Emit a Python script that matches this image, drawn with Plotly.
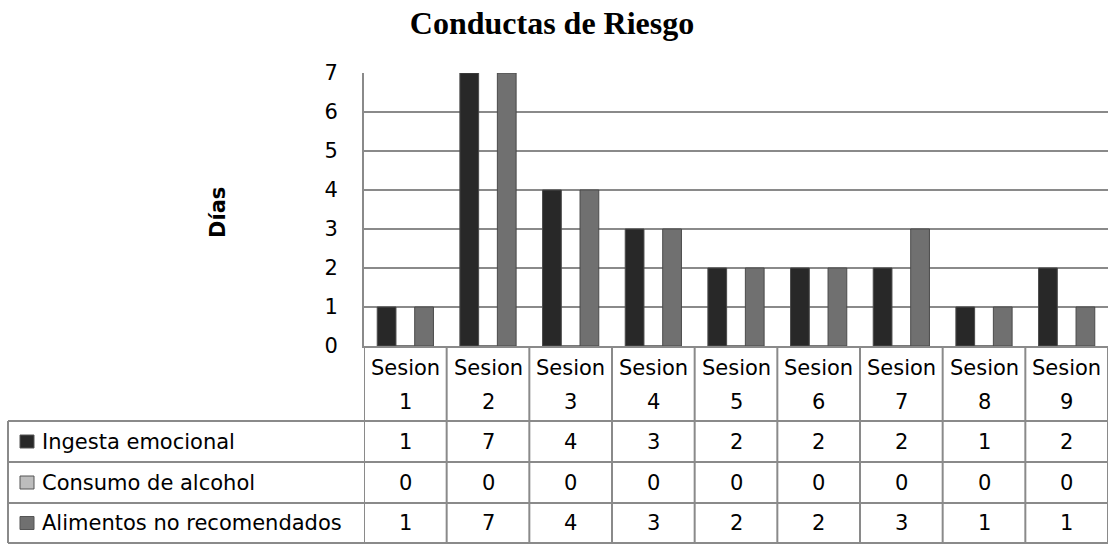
import plotly.graph_objects as go

sessions = ["Sesion 1", "Sesion 2", "Sesion 3", "Sesion 4", "Sesion 5",
            "Sesion 6", "Sesion 7", "Sesion 8", "Sesion 9"]
series_names = ["Ingesta emocional", "Consumo de alcohol", "Alimentos no recomendados"]
ingesta = [1, 7, 4, 3, 2, 2, 2, 1, 2]
alcohol = [0, 0, 0, 0, 0, 0, 0, 0, 0]
alimentos = [1, 7, 4, 3, 2, 2, 3, 1, 1]
y_ticks = [0, 1, 2, 3, 4, 5, 6, 7]

colors = ["#282828", "#bdbdbd", "#707070"]
series = [ingesta, alcohol, alimentos]

W, H = 1109, 544
L, R, T, B = 364, 1108, 73, 346
FONT = "DejaVu Sans"
GRID = "#8a8a8a"


def px(x):
    return (x - L) / (R - L)


def py(y):
    return (B - y) / (B - T)


fig = go.Figure()
xs = list(range(len(sessions)))
for name, vals, c in zip(series_names, series, colors):
    fig.add_trace(go.Bar(
        x=xs, y=vals, name=name,
        marker=dict(color=c, line=dict(color="#4a4a4a", width=1)),
        showlegend=False,
    ))

fig.update_layout(
    width=W, height=H,
    margin=dict(l=L, r=W - R, t=T, b=H - B),
    paper_bgcolor="white", plot_bgcolor="white",
    barmode="group", bargap=0.32, bargroupgap=0,
    font=dict(family=FONT, size=21, color="black"),
    xaxis=dict(range=[-0.5, len(sessions) - 0.5], showticklabels=False,
               showgrid=False, zeroline=False, showline=True,
               linecolor=GRID, linewidth=2, ticks=""),
    yaxis=dict(range=[0, 7], tickvals=y_ticks, showgrid=True,
               gridcolor=GRID, gridwidth=2, zeroline=False,
               showline=True, linecolor=GRID, linewidth=2,
               ticks="", ticklabelstandoff=20,
               tickfont=dict(family=FONT, size=21)),
    title=dict(text="<b>Conductas de Riesgo</b>", x=552 / W, xanchor="center",
               xref="container", y=1 - 23 / H, yanchor="middle",
               font=dict(family="Liberation Serif", size=32, color="black")),
)

# y-axis title
fig.add_annotation(text="<b>Días</b>", textangle=-90, xref="paper", yref="paper",
                   x=px(204), y=py(213), showarrow=False,
                   font=dict(family=FONT, size=21))

# data table
row_lines = [421, 462, 503, 543]
line = dict(color=GRID, width=2)
for yl in row_lines:
    fig.add_shape(type="line", xref="paper", yref="paper",
                  x0=px(8), x1=1, y0=py(yl), y1=py(yl), line=line)
for i in range(len(sessions) + 1):
    fig.add_shape(type="line", xref="x", yref="paper",
                  x0=i - 0.5, x1=i - 0.5, y0=0, y1=py(543), line=line)
fig.add_shape(type="line", xref="paper", yref="paper",
              x0=px(8), x1=px(8), y0=py(421), y1=py(543), line=line)

for i, s in enumerate(sessions):
    word, num = s.split(" ")
    fig.add_annotation(text=word, x=i, xref="x", yref="paper", y=py(368),
                       showarrow=False, yanchor="middle")
    fig.add_annotation(text=num, x=i, xref="x", yref="paper", y=py(402),
                       showarrow=False, yanchor="middle")

row_centers = [441.5, 482.5, 523]
for name, vals, c, yc in zip(series_names, series, colors, row_centers):
    fig.add_shape(type="rect", xref="paper", yref="paper",
                  x0=px(20), x1=px(34), y0=py(yc - 6.5), y1=py(yc + 6.5),
                  fillcolor=c, line=dict(color="#555555", width=1))
    fig.add_annotation(text=name, xref="paper", yref="paper", x=px(40), y=py(yc),
                       xanchor="left", yanchor="middle", showarrow=False)
    for i, v in enumerate(vals):
        fig.add_annotation(text=str(v), x=i, xref="x", yref="paper", y=py(yc),
                           showarrow=False, yanchor="middle")

fig.write_html("out.html", config={"displayModeBar": False},
               post_script="document.body.style.margin='0';")
